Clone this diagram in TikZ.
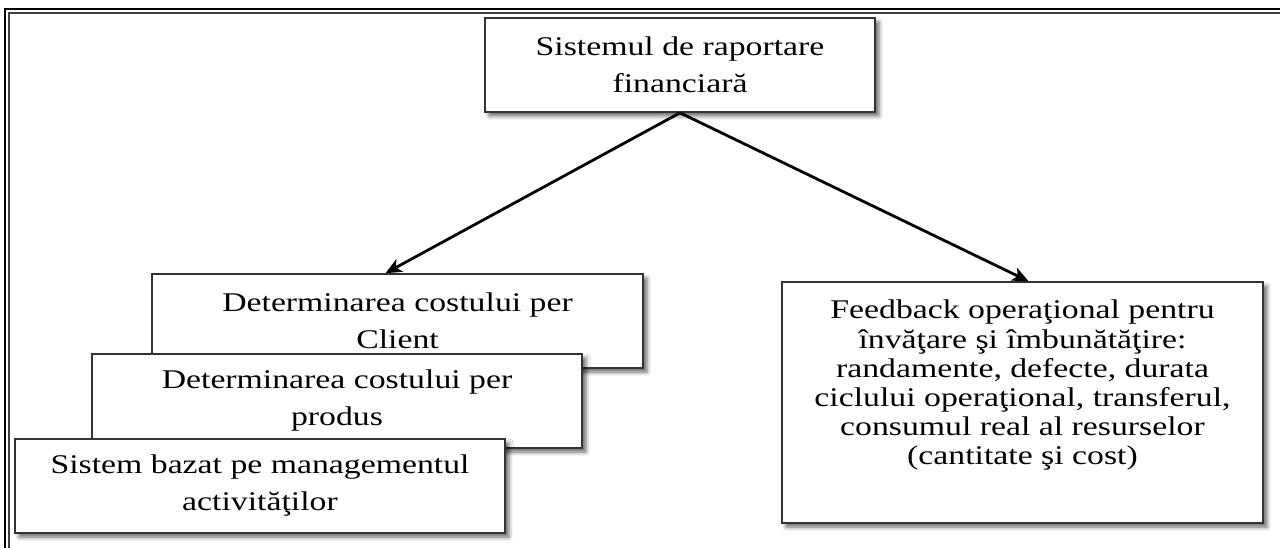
\documentclass[tikz,border=0pt]{standalone}
\usepackage{fontspec}
\setmainfont{Liberation Serif}[FakeStretch=1.25]
\usetikzlibrary{arrows.meta,shadows.blur,calc}
\begin{document}
\begin{tikzpicture}[x=1pt,y=-1pt,
  card/.style={draw=black!80, line width=1.6pt, fill=white, rectangle,
    minimum width=490pt, minimum height=94pt, inner sep=0pt,
    blur shadow={shadow xshift=4pt, shadow yshift=-4pt,
      shadow blur radius=4pt, shadow opacity=60}},
  lbl/.style={align=center, font=\fontsize{27}{37}\selectfont},
  lbltight/.style={align=center, font=\fontsize{27}{29.2}\selectfont},
  link/.style={line width=2.8pt, -{Stealth[length=16pt,width=14pt,inset=4pt]}}
]
\useasboundingbox (0,0) rectangle (1280,548);

% page frame: thick outer rule and thin inner rule
\draw[line width=2.4pt, black] (5,548) -- (5,9) -- (1280,9);
\draw[line width=1.4pt, black!75] (9,548) -- (9,13) -- (1280,13);

% stacked cost boxes, back to front
\node[card, lbl, minimum width=491pt] (client) at (397.5,321) {Determinarea costului per\\Client};
\node[card, lbl, minimum width=490pt] (produs) at (337,401) {Determinarea costului per\\produs};
\node[card, lbl, minimum width=490pt] (abm) at (260,486) {Sistem bazat pe managementul\\activităţilor};

% feedback box
\node[card, minimum width=481pt, minimum height=241pt] (fb) at (1022.5,402.5) {};
\node[lbltight] (fbtext) at ($(fb.center)+(0,-17)$) {Feedback operaţional pentru\\învăţare şi îmbunătăţire:\\randamente, defecte, durata\\ciclului operaţional, transferul,\\consumul real al resurselor\\(cantitate şi cost)};

% reporting system box
\node[card, lbl, minimum width=390pt] (top) at (680,65) {Sistemul de raportare\\financiară};

% connectors
\draw[link] (top.south) -- ([xshift=-12pt]client.north);
\draw[link] (top.south) -- ([xshift=6pt]fb.north);
\end{tikzpicture}
\end{document}
